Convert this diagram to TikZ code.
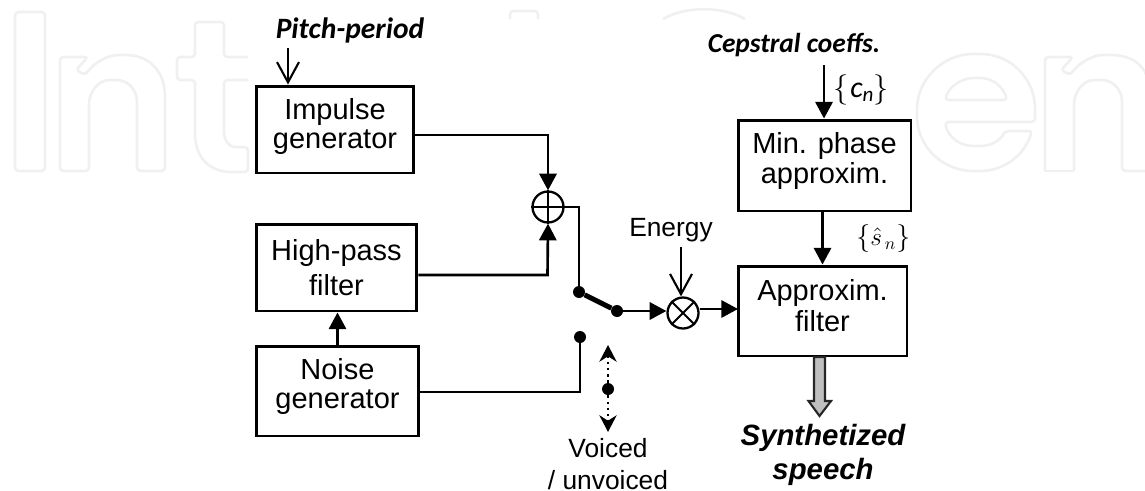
\documentclass[tikz,border=0pt]{standalone}
\usepackage{fontspec}
\usepackage{graphicx}
\usetikzlibrary{arrows.meta}
\setmainfont{Liberation Sans}
\newfontfamily\carlitofont{Carlito}
\begin{document}
\begin{tikzpicture}[x=0.02cm, y=-0.02cm]
      \tikzstyle{blockbox}=[draw, line width=1.7pt, align=center, inner sep=0pt,
        font=\fontsize{16.5}{16.6}\selectfont]
      \tikzstyle{flowline}=[line width=1.5pt, -{Triangle[length=9.5pt,width=9.8pt]}]
      \tikzstyle{plainline}=[line width=1.5pt]
      \tikzstyle{thinarrow}=[line width=1.2pt, -{Straight Barb[length=11.5pt,width=12.5pt]}]
      \tikzstyle{dotarrow}=[line width=1.5pt, dotted, -{Stealth[length=9.5pt,width=9.8pt]}]
      \tikzstyle{junction}=[draw, circle, line width=1.3pt, minimum size=0.62cm, inner sep=0pt]
      \tikzstyle{contact}=[circle, fill=black, minimum size=0.24cm, inner sep=0pt]
      \tikzstyle{plaintext}=[font=\fontsize{15}{16.6}\selectfont, align=center, inner sep=0pt]
      \tikzstyle{outputtext}=[font=\fontsize{16.7}{19.4}\selectfont\bfseries\itshape, align=center, inner sep=0pt]
      \tikzstyle{watermark}=[draw=black!6, line width=1.5pt, rounded corners=2pt]
      \useasboundingbox (0,0) rectangle (1145,490);

      % background lettering
      \draw[watermark] (15,12) rectangle (45,171);
      \draw[watermark] (60,171) -- (60,57) -- (88,57) -- (76,70) -- (85,75)
        .. controls (95,62) and (108,55) .. (122,55)
        .. controls (150,55) and (165,72) .. (165,100) -- (165,171) -- (137,171) -- (137,105)
        .. controls (137,90) and (128,80) .. (113,80)
        .. controls (98,80) and (89,92) .. (89,108) -- (89,171) -- cycle;
      \draw[watermark] (248,57) -- (224,57) -- (224,22) -- (195,22) -- (195,57) -- (177,57)
        -- (177,80) -- (195,80) -- (195,130)
        .. controls (195,158) and (210,172) .. (235,172) -- (248,172) -- (248,147) -- (238,147)
        .. controls (229,147) and (224,140) .. (224,128) -- (224,80) -- (248,80);
      \draw[watermark] (510,19) -- (510,11) -- (538,11) -- (538,19);
      \draw[watermark] (663,19) .. controls (685,6) and (723,6) .. (745,19);
      \draw[watermark] (1035,122) -- (945,122)
        .. controls (948,137) and (960,146) .. (977,146)
        .. controls (990,146) and (1000,141) .. (1005,131) -- (1032,131)
        .. controls (1024,156) and (1003,171) .. (977,171)
        .. controls (942,171) and (917,146) .. (917,113)
        .. controls (917,80) and (942,54) .. (977,54)
        .. controls (1012,54) and (1035,80) .. (1035,112) -- cycle;
      \draw[watermark] (945,100) .. controls (949,87) and (961,78) .. (977,78)
        .. controls (993,78) and (1003,87) .. (1007,100) -- cycle;
      \draw[watermark] (1045,171) -- (1045,57) -- (1073,57) -- (1061,70) -- (1070,75)
        .. controls (1080,62) and (1093,55) .. (1107,55)
        .. controls (1135,55) and (1145,68) .. (1148,80);
      \draw[watermark] (1074,171) -- (1074,108) .. controls (1074,92) and (1083,80) .. (1098,80)
        .. controls (1113,80) and (1122,90) .. (1122,105) -- (1122,171) -- (1148,171);
      \draw[watermark] (1074,171) -- (1045,171);

      % blocks on the left
      \node[blockbox, minimum width=3.16cm, minimum height=1.74cm] (impulse) at (335,129.5)
        {Impulse\\generator\\[-9.9pt]};
      \node[blockbox, minimum width=3.22cm, minimum height=1.74cm] (highpass) at (336.5,267.5)
        {High-pass\\[3pt]filter};
      \node[blockbox, minimum width=3.26cm, minimum height=1.80cm] (noise) at (337.5,391)
        {Noise\\generator\\[-8pt]};

      % blocks on the right
      \node[blockbox, minimum width=3.46cm, minimum height=1.82cm] (minphase) at (824.5,165.5)
        {Min. phase\\approxim.\\[-8pt]};
      \node[blockbox, minimum width=3.38cm, minimum height=1.80cm] (approx) at (822.5,311)
        {Approxim.\\[1pt]filter\\[-10.3pt]};

      % adder and multiplier
      \node[junction] (adder) at (548,207) {};
      \draw[line width=1.1pt] (adder.west) -- (adder.east) (adder.north) -- (adder.south);
      \node[junction] (mixer) at (683,313) {};
      \draw[line width=1.1pt] (mixer.45) -- (mixer.225) (mixer.135) -- (mixer.315);

      % switch
      \node[contact] (swtop) at (579,292) {};
      \node[contact] (swout) at (617,311) {};
      \node[contact] (swlow) at (580,337) {};
      \node[contact] (swmid) at (608,389) {};
      \coordinate (selup) at (608,345);
      \coordinate (seldown) at (608,432);
      \draw[line width=2.8pt] (swtop) -- (swout);
      \draw[dotarrow] (swmid) -- (selup);
      \draw[dotarrow] (swmid) -- (seldown);

      % connections
      \coordinate (impulseturn) at (548,135);
      \coordinate (passturn) at (547.5,275);
      \coordinate (noiseturn) at (580,392);
      \coordinate (filterin) at (738,309);
      \draw[flowline] (impulse.east |- impulseturn) -- (impulseturn) -- (adder.north);
      \draw[flowline] (highpass.east |- passturn) -- (passturn) -- (adder.south);
      \draw[plainline] (adder.east) -- (swtop |- adder.east) -- (swtop);
      \draw[plainline] (noise.east |- noiseturn) -- (noiseturn) -- (swlow);
      \draw[flowline] (noise.north) -- (noise.north |- highpass.south);
      \draw[flowline] (swout) -- (swout -| mixer.west);
      \draw[flowline] (mixer.east |- filterin) -- (filterin);
      \draw[flowline] (minphase.south -| approx.north) -- (approx.north);

      % inputs
      \coordinate (pitchin) at (288,48);
      \coordinate (energyin) at (681,247);
      \coordinate (cepstralin) at (824,65);
      \draw[thinarrow] (pitchin) -- (pitchin |- impulse.north);
      \draw[thinarrow] (energyin) -- (energyin |- mixer.north);
      \draw[flowline] (cepstralin) -- (cepstralin |- minphase.north);

      % output
      \draw[line width=1.2pt, draw=black!85, fill=black!25] (814,357) -- (825,357) -- (825,401)
        -- (831,401) -- (819.5,416) -- (808.5,401) -- (814,401) -- cycle;

      % texts
      \node[anchor=base, inner sep=0pt, font=\fontsize{16.8}{18}\carlitofont\bfseries\itshape]
        (pitchlabel) at (350,38) {Pitch-period};
      \node[anchor=base, inner sep=0pt, font=\fontsize{15.6}{18}\carlitofont\bfseries\itshape]
        (cepstrallabel) at (794,52) {Cepstral coeffs.};
      \node[plaintext, anchor=base] (energylabel) at (671,236) {Energy};
      \node[plaintext] (voicedlabel) at (608,464) {Voiced\\[1.5pt]/ unvoiced};
      \node[outputtext] (speechlabel) at (823,455) {Synthetized\\speech};
      \node[anchor=west, inner sep=0pt, font=\fontsize{17}{18}\carlitofont] (coefflabel) at (833,90)
        {$\Bigl\{$\hspace{1pt}{\itshape c}\raisebox{-2.5pt}{\fontsize{12}{13}\selectfont\itshape n}$\Bigr\}$};
      \node[anchor=west, inner sep=0pt, font=\fontsize{14}{15}\selectfont] (samplelabel) at (856,238)
        {\scalebox{1.1}{$\Bigl\{$}$\hat{s}_{\,n}$\scalebox{1.1}{$\Bigr\}$}};
\end{tikzpicture}
\end{document}
